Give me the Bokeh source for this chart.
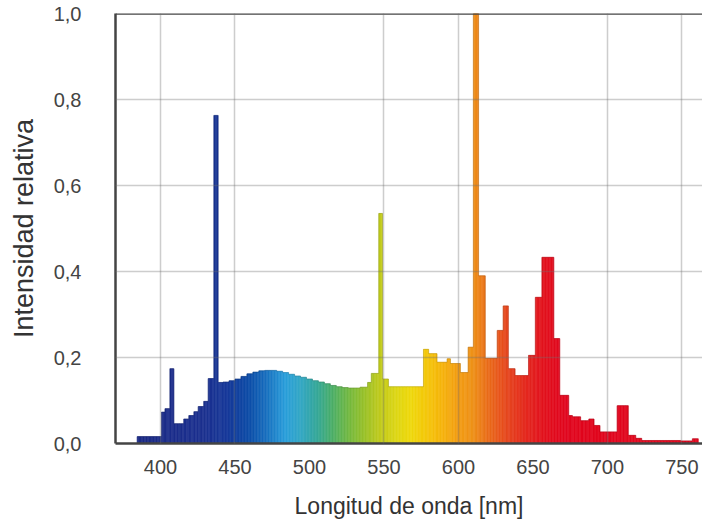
import numpy as np
from bokeh.plotting import figure
from bokeh.models import Range1d, FixedTicker, ColumnDataSource, Span, CustomJSTickFormatter
from bokeh.embed import file_html
from bokeh.resources import INLINE

# Spectrum: bin edges (nm) and relative intensity of each bin
bin_edges = [384.3, 400.7, 403.0, 406.3, 409.0, 415.6, 419.0, 422.4, 425.3, 429.0, 432.0, 435.8, 438.7,
             442, 446, 450, 454, 458, 462, 466, 470, 474, 478, 482, 486, 490, 494, 498, 502, 506,
             510, 514, 518, 522, 526, 530, 534, 539, 541.5, 546.5, 549, 553, 576.5, 580, 585.6,
             592.4, 594.6, 601.3, 606.5, 610, 613.5, 618, 626, 630, 633.5, 638, 647, 651.6, 656,
             664, 668, 674, 676.5, 682, 687.5, 691, 695, 706.5, 714, 719, 723, 749, 757, 761]
intensity = [0.016, 0.073, 0.081, 0.174, 0.046, 0.057, 0.065, 0.074, 0.086, 0.098, 0.151, 0.763,
             0.142, 0.143, 0.146, 0.150, 0.156, 0.162, 0.166, 0.169, 0.170, 0.170, 0.168, 0.165,
             0.161, 0.157, 0.154, 0.150, 0.146, 0.143, 0.139, 0.135, 0.132, 0.130, 0.129, 0.129,
             0.131, 0.142, 0.163, 0.535, 0.150, 0.132, 0.219, 0.209, 0.189, 0.197, 0.186, 0.165,
             0.224, 1.0, 0.39, 0.198, 0.263, 0.32, 0.174, 0.158, 0.205, 0.34, 0.433, 0.244, 0.112,
             0.065, 0.062, 0.053, 0.057, 0.042, 0.027, 0.088, 0.019, 0.012, 0.007, 0.006, 0.011]

x_ticks = [400, 450, 500, 550, 600, 650, 700, 750]
x_grid = [400, 450, 550, 600, 700, 750]
y_ticks = [0.0, 0.2, 0.4, 0.6, 0.8, 1.0]

# colour stops for the visible-spectrum fill (style only)
stops = [(380, "#1c2a84"), (430, "#1c3190"), (445, "#17399a"), (460, "#0d4ea8"),
         (472, "#1872c0"), (484, "#2a9fdb"), (495, "#35a8c2"), (505, "#35a89a"),
         (515, "#4aae6a"), (527, "#74b93e"), (538, "#9dc227"), (548, "#c2cb1c"),
         (558, "#dcd614"), (568, "#eed80c"), (578, "#f4c90a"), (590, "#f6b20c"),
         (600, "#f39c12"), (610, "#ee9018"), (620, "#ea6c1a"), (632, "#e6481e"),
         (645, "#e42a20"), (656, "#e2141e"), (670, "#e1061e"), (780, "#e00a20")]


def hex2rgb(h):
    return np.array([int(h[i:i + 2], 16) for i in (1, 3, 5)], dtype=float)


stop_w = np.array([s[0] for s in stops], dtype=float)
stop_c = np.array([hex2rgb(s[1]) for s in stops])


def spec_color(w):
    c = [np.interp(w, stop_w, stop_c[:, k]) for k in range(3)]
    return "#%02x%02x%02x" % tuple(int(round(v)) for v in c)


# split each bin into thin slices so the colour follows wavelength
lefts, rights, tops, colors = [], [], [], []
for i, v in enumerate(intensity):
    a, b = bin_edges[i], bin_edges[i + 1]
    n = max(1, int(np.ceil((b - a) / 1.0)))
    sub = np.linspace(a, b, n + 1)
    for j in range(n):
        lefts.append(sub[j])
        rights.append(sub[j + 1])
        tops.append(v)
        colors.append(spec_color(0.5 * (sub[j] + sub[j + 1])))

src = ColumnDataSource(dict(left=lefts, right=rights, top=tops,
                            bottom=[0.0] * len(tops), color=colors))

p = figure(width=702, height=523, x_range=Range1d(369.8, 763.8), y_range=Range1d(0.0, 1.0),
           output_backend="svg", toolbar_location=None,
           min_border_left=115, min_border_right=0, min_border_top=13, min_border_bottom=80)
p.outline_line_color = None
p.background_fill_color = "white"
p.border_fill_color = "white"

p.quad(left="left", right="right", top="top", bottom="bottom", source=src,
       fill_color="color", line_color="color", line_width=0.6)
# faint darker edge along the top of the steps
p.step(x=bin_edges, y=intensity + [intensity[-1]], mode="after",
       line_color="#000000", line_alpha=0.12, line_width=1)

# grid drawn over the spectrum, semi transparent
p.xgrid.ticker = FixedTicker(ticks=x_grid)
p.ygrid.ticker = FixedTicker(ticks=y_ticks[1:-1])
for g in (p.xgrid, p.ygrid):
    g.grid_line_color = "#707070"
    g.grid_line_alpha = 0.35
    g.grid_line_width = 1.5
    g.level = "overlay"

p.add_layout(Span(location=1.0, dimension="width", line_color="#444444", line_width=2.5))

p.xaxis.ticker = FixedTicker(ticks=x_ticks)
p.yaxis.ticker = FixedTicker(ticks=y_ticks)
p.yaxis.formatter = CustomJSTickFormatter(code="return tick.toFixed(1).replace('.', ',');")

for ax in (p.xaxis, p.yaxis):
    ax.axis_line_color = "#444444"
    ax.axis_line_width = 2.5
    ax.major_tick_line_color = None
    ax.minor_tick_line_color = None
    ax.major_label_text_font = "Liberation Sans"
    ax.major_label_text_font_size = "20px"
    ax.major_label_text_color = "#444444"
    ax.axis_label_text_font = "Liberation Sans"
    ax.axis_label_text_font_style = "normal"
    ax.axis_label_text_color = "#333333"

p.xaxis.axis_label = "Longitud de onda [nm]"
p.yaxis.axis_label = "Intensidad relativa"
p.xaxis.axis_label_text_font_size = "23px"
p.yaxis.axis_label_text_font_size = "27px"
p.xaxis.major_label_standoff = 10
p.xaxis.axis_label_standoff = 16
p.yaxis.major_label_standoff = 28
p.yaxis.axis_label_standoff = 12

open("out.html", "w").write(file_html(p, INLINE))
